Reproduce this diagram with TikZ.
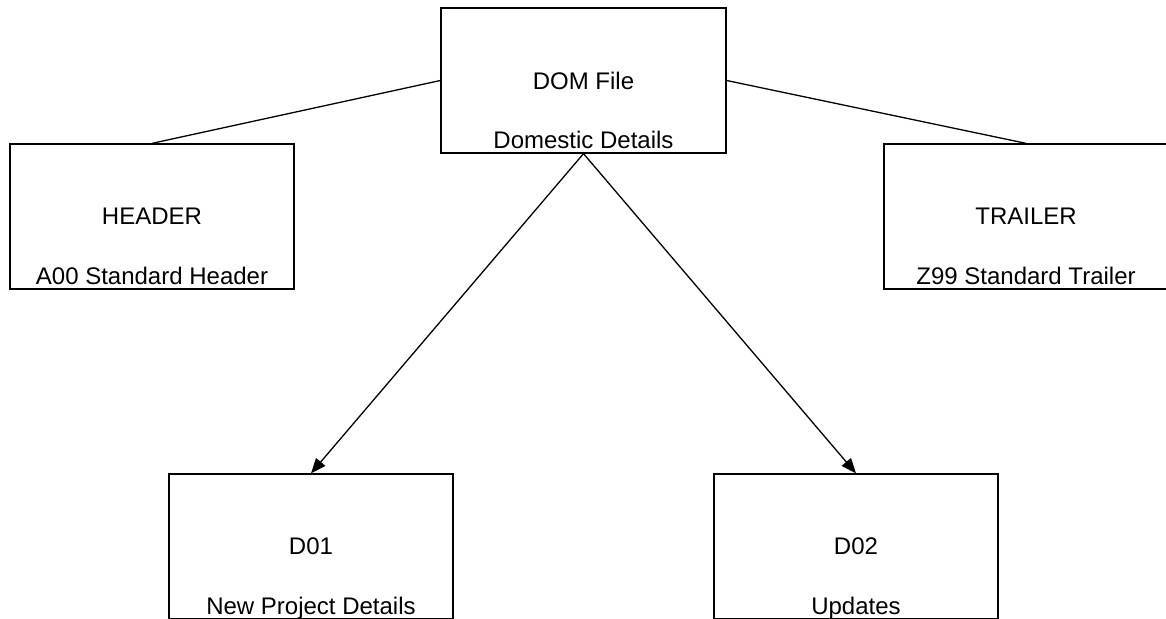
\documentclass[tikz,border=0pt]{standalone}
\usepackage{fontspec}
\setmainfont{Liberation Sans}
\usetikzlibrary{arrows.meta}

\begin{document}
\begin{tikzpicture}[x=1pt,y=-1pt,
    recbox/.style={draw,line width=1.3pt,minimum width=284pt,minimum height=145pt,inner sep=0pt,font=\fontsize{24}{28}\selectfont},
    subtext/.style={anchor=base,yshift=5pt,inner sep=0pt,font=\fontsize{24}{28}\selectfont},
    link/.style={line width=1.3pt},
    feed/.style={line width=1.3pt,-{Triangle[length=15pt,width=12pt]}}]
    \useasboundingbox (0,0) rectangle (1166,618);
    \clip (0,0) rectangle (1166,618);
    \node[recbox,minimum width=285pt,label={[subtext,name=domsub]south:Domestic Details}] (dom) at (583.5,80.5) {DOM File};
    \node[recbox,label={[subtext,name=headsub]south:A00 Standard Header}] (head) at (152,216.5) {HEADER};
    \node[recbox,label={[subtext,name=trailsub]south:Z99 Standard Trailer}] (trail) at (1026,216.5) {TRAILER};
    \node[recbox,label={[subtext,name=donesub]south:New Project Details}] (done) at (311,546.5) {D01};
    \node[recbox,label={[subtext,name=dtwosub]south:Updates}] (dtwo) at (856,546.5) {D02};
    \draw[link] (dom.west) -- (head.north);
    \draw[link] (dom.east) -- (trail.north);
    \draw[feed] (dom.south) -- (done.north);
    \draw[feed] (dom.south) -- (dtwo.north);
  \end{tikzpicture}
\end{document}
